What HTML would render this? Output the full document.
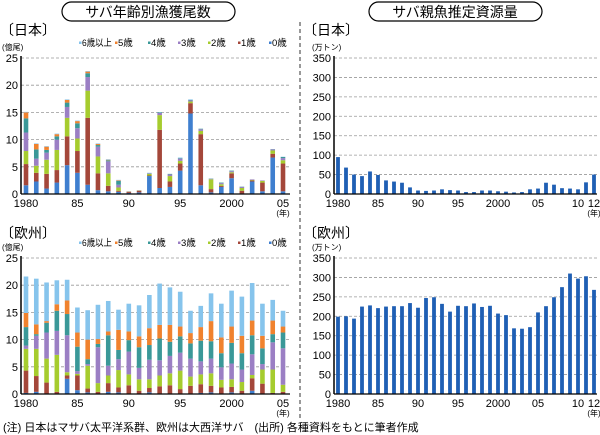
<!DOCTYPE html>
<html><head><meta charset="utf-8"><style>
body{margin:0;background:#fff;}
svg{display:block;font-family:"Liberation Sans","Noto Sans CJK JP",sans-serif;}
</style></head><body>
<svg id="c" width="600" height="435" viewBox="0 0 600 435">
<g><rect x="62" y="2" width="173" height="19" rx="9.5" fill="#fff" stroke="#000" stroke-width="1.2"/><text x="148" y="17" font-size="14" text-anchor="middle">サバ年齢別漁獲尾数</text></g>
<g><rect x="369" y="2" width="173" height="19" rx="9.5" fill="#fff" stroke="#000" stroke-width="1.2"/><text x="455" y="17" font-size="14" text-anchor="middle">サバ親魚推定資源量</text></g>
<line x1="300" y1="22" x2="300" y2="420" stroke="#333" stroke-dasharray="4,3"/>
<text x="0" y="35" font-size="14">〔日本〕</text>
<text x="0" y="238" font-size="14">〔欧州〕</text>
<text x="303" y="35" font-size="14">〔日本〕</text>
<text x="303" y="238" font-size="14">〔欧州〕</text>
<text x="2" y="50" font-size="8">(億尾)</text>
<text x="2" y="250" font-size="8">(億尾)</text>
<text x="312" y="50" font-size="8">(万トン)</text>
<text x="312" y="250" font-size="8">(万トン)</text>
<text x="3" y="431" font-size="11">(注) 日本はマサバ太平洋系群、欧州は大西洋サバ　(出所) 各種資料をもとに筆者作成</text>
<g id="g"></g>
</svg>
<script>
const ages=['0歳','1歳','2歳','3歳','4歳','5歳','6歳以上'];
const ageColors=['#3f7fcf','#a4473a','#a6cc2e','#9b7fc4','#3a9898','#f0822e','#86c4ec'];
const catchYears=[1980,1981,1982,1983,1984,1985,1986,1987,1988,1989,1990,1991,1992,1993,1994,1995,1996,1997,1998,1999,2000,2001,2002,2003,2004,2005];
const jpCatch=[[1.6,3.9,2.4,3.4,2.6,1.1,0.1],[2.3,1.6,1.3,1.3,1.7,1.0,0.1],[1.0,2.7,2.6,1.3,0.5,0.6,0.1],[2.1,2.3,3.7,1.9,0.6,0.4,0.1],[5.3,5.3,3.4,2.0,0.8,0.5,0.1],[3.9,4.0,2.3,1.9,0.9,0.4,0.1],[1.7,12.3,5.0,2.5,0.7,0.3,0.1],[0.7,3.1,3.1,1.8,0.3,0.2,0.1],[0.5,1.0,2.3,2.2,0.2,0.1,0.1],[0.4,0.2,0.6,0.5,0.7,0.1,0.1],[0.2,0.2,0.05,0.05,0,0,0],[0.3,0.3,0.05,0.05,0,0,0],[3.3,0.1,0.3,0.1,0.05,0,0.05],[1.1,10.7,2.7,0.4,0.1,0,0.05],[1.3,1.0,1.0,0.3,0.1,0,0],[4.3,1.3,0.5,0.4,0.1,0,0.1],[14.8,1.9,0.3,0.2,0.1,0,0.1],[1.6,9.4,0.6,0.3,0.1,0,0],[0.3,0.6,1.8,0.1,0.05,0,0],[1.3,0.2,0.3,0.2,0.1,0,0],[2.9,0.9,0.2,0.2,0.1,0,0],[0.1,0.5,0.5,0.2,0.05,0,0],[2.3,0.2,0.1,0.1,0,0,0],[0.5,1.6,0.3,0.1,0,0,0],[6.7,0.7,0.6,0.2,0.05,0,0],[0.5,5.1,0.6,0.4,0.2,0,0.05]];
const euCatch=[[0.2,4.1,4.0,0.6,3.4,2.6,6.7],[0.4,2.9,5.0,2.4,0.3,1.8,8.4],[0.1,2.0,4.4,4.8,1.8,0.3,7.1],[0.1,0.3,6.8,4.4,3.7,1.2,4.4],[2.8,0.6,0.6,6.8,3.9,2.5,3.8],[0.7,2.7,0.3,0.5,4.5,2.6,4.6],[0.3,0.7,4.2,0.3,0.9,3.6,5.4],[0.1,0.3,1.6,6.6,0.6,0.9,6.3],[0.4,1.6,1.4,1.8,5.6,0.7,5.6],[0.3,0.9,3.2,2.0,1.7,3.7,3.7],[0.1,1.5,2.0,4.2,2.1,1.6,5.1],[0.1,0.5,2.1,2.1,3.8,2.0,5.7],[0.3,0.8,1.6,3.6,2.7,3.1,6.1],[0.1,1.3,2.0,2.8,4.0,2.5,7.6],[0.1,1.5,2.2,3.2,2.6,3.1,6.9],[0.1,0.8,3.4,3.3,3.0,1.8,6.4],[0.1,1.4,1.7,3.3,2.8,1.9,4.1],[0.2,1.6,1.8,2.4,3.8,2.5,3.9],[0.3,1.2,2.3,2.7,3.2,3.7,5.1],[0.1,1.1,1.4,2.3,2.6,2.9,6.2],[0.3,1.0,1.4,2.9,3.8,3.0,6.6],[0.1,0.5,1.6,2.3,3.0,3.2,7.2],[0.6,2.3,0.6,3.8,3.5,2.7,6.9],[0.1,1.8,2.6,1.0,2.9,2.3,5.9],[0.1,0.1,4.3,5.0,1.5,2.5,3.8],[0.1,0.3,1.3,6.7,2.9,1.1,2.9]];
const catchTicks=[0,5,10,15,20,25];
const catchXLabels=['1980','85','90','95','2000','05'];
const bioYears=[1980,1981,1982,1983,1984,1985,1986,1987,1988,1989,1990,1991,1992,1993,1994,1995,1996,1997,1998,1999,2000,2001,2002,2003,2004,2005,2006,2007,2008,2009,2010,2011,2012];
const jpBio=[95,68,50,46,58,49,35,32,29,17,9,8,9,12,10,9,5,5,9,9,7,6,4,5,12,14,29,24,15,14,12,30,50];
const euBio=[199,200,194,225,228,221,225,226,226,234,222,247,249,232,212,227,226,233,224,227,207,203,169,168,172,210,226,249,275,310,297,303,268];
const bioTicks=[0,50,100,150,200,250,300,350];
const bioXLabels=['1980','85','90','95','2000','05','10','12'];
const bioXLabelYears=[1980,1985,1990,1995,2000,2005,2010,2012];

const NS='http://www.w3.org/2000/svg';
const G=document.getElementById('g');
function mk(t,a,p){const e=document.createElementNS(NS,t);for(const k in a)e.setAttribute(k,a[k]);(p||G).appendChild(e);return e;}

function axes(p,ticks,max,name){
  const yS=v=>p.y0-v/max*(p.y0-p.y1);
  ticks.forEach(t=>{
    if(t>0){const l=mk('line',{x1:p.ax,x2:p.right,y1:yS(t),y2:yS(t),stroke:'#999','stroke-dasharray':'3,2','stroke-width':0.8});
    
    }
    const tx=mk('text',{x:p.ax-3,y:yS(t)+4,'font-size':11,'text-anchor':'end'});tx.textContent=t;
    
    
  });
  return yS;
}
function frame(p,name){
  const a=mk('line',{x1:p.ax,x2:p.ax,y1:p.y1-2,y2:p.y0,stroke:'#000','stroke-width':1.5});
  
  
  const b=mk('line',{x1:p.ax,x2:p.right,y1:p.y0,y2:p.y0,stroke:'#000','stroke-width':1.2});
  
  
}

function catchChart(data,y0,name){
  const p={ax:21,right:290,y0:y0,y1:y0-136};
  const yS=axes(p,catchTicks,25,name);
  const xS=i=>26+i*10.28;
  data.forEach((row,i)=>{
    let cum=0;
    row.forEach((v,k)=>{
      if(v<=0)return;
      const r=mk('rect',{x:xS(i)-2.3,y:yS(cum+v),width:4.6,height:yS(cum)-yS(cum+v),fill:ageColors[k]});
      
      
      cum+=v;
    });
  });
  frame(p,name);
  catchXLabels.forEach((s,j)=>{const t=mk('text',{x:xS(j*5),y:y0+13,'font-size':11,'text-anchor':'middle'});t.textContent=s;
    
    });
  const u=mk('text',{x:283,y:y0+22,'font-size':8,'text-anchor':'middle'});u.textContent='(年)';
  
  
  const ly=y0-148;
  const lxs=[269,238,208,178,148,115,79];
  for(let k=6;k>=0;k--){
    const lx=lxs[k];
    const lg=mk('g',{});
    
    
    mk('rect',{x:lx,y:ly-4.5,width:2.5,height:2.5,fill:ageColors[k]},lg);
    const attrs={x:lx+3,y:ly,'font-size':9.5};
    if(k===6){attrs.textLength=30;attrs.lengthAdjust='spacingAndGlyphs';}
    const t=mk('text',attrs,lg);t.textContent=ages[k];
  }
}
function bioChart(data,y0,name){
  const p={ax:334,right:597,y0:y0,y1:y0-136};
  const yS=axes(p,bioTicks,350,name);
  const xS=yr=>338+(yr-1980)*8;
  data.forEach((v,i)=>{
    const r=mk('rect',{x:xS(bioYears[i])-1.9,y:yS(v),width:3.8,height:y0-yS(v),fill:'#1f5fb4'});
    
    
  });
  frame(p,name);
  bioXLabels.forEach((s,j)=>{const t=mk('text',{x:xS(bioXLabelYears[j]),y:y0+13,'font-size':11,'text-anchor':'middle'});t.textContent=s;
    
    });
  const u=mk('text',{x:594,y:y0+22,'font-size':8,'text-anchor':'middle'});u.textContent='(年)';
  
  
}
catchChart(jpCatch,194,'japan-catch');
catchChart(euCatch,394,'europe-catch');
bioChart(jpBio,194,'japan-biomass');
bioChart(euBio,394,'europe-biomass');
</script>
</body></html>
